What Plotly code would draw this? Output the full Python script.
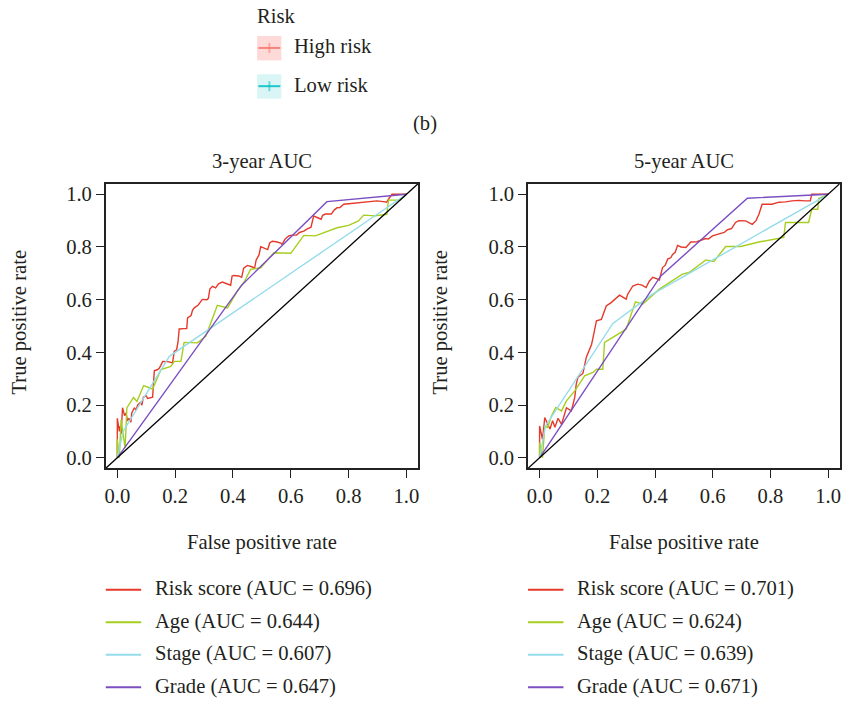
import plotly.graph_objects as go

FONT = "Liberation Serif"
TXT = "#231F20"

# ---------------- data ----------------
panel_titles = ["3-year AUC", "5-year AUC"]
series_names = ["Risk score", "Age", "Stage", "Grade"]
series_colors = ["#E5392B", "#A6CE1E", "#95DCEB", "#7B4FC1"]
auc_3y = [0.696, 0.644, 0.607, 0.647]
auc_5y = [0.701, 0.624, 0.639, 0.671]
tick_vals = [0.0, 0.2, 0.4, 0.6, 0.8, 1.0]
axis_range = [-0.04, 1.04]
risk_groups = ["High risk", "Low risk"]
risk_colors = ["#F8766D", "#00BFC4"]

# 3-year
risk3_x = [0, 0, 0.007, 0.01, 0.013, 0.018, 0.025, 0.03, 0.035, 0.04, 0.047, 0.05, 0.059, 0.065, 0.07,
           0.08, 0.085, 0.09, 0.1, 0.105, 0.122, 0.128, 0.14, 0.145, 0.15, 0.157, 0.175, 0.191, 0.197,
           0.205, 0.21, 0.214, 0.23, 0.24, 0.243, 0.255, 0.26, 0.266, 0.28, 0.294, 0.31, 0.315, 0.32,
           0.329, 0.34, 0.35, 0.363, 0.38, 0.392, 0.397, 0.403, 0.42, 0.43, 0.437, 0.45, 0.465, 0.475,
           0.48, 0.484, 0.49, 0.496, 0.51, 0.52, 0.527, 0.536, 0.55, 0.565, 0.57, 0.58, 0.593, 0.605,
           0.62, 0.63, 0.645, 0.657, 0.67, 0.675, 0.679, 0.695, 0.705, 0.71, 0.72, 0.74, 0.75, 0.76,
           0.77, 0.783, 0.81, 0.84, 0.87, 0.898, 0.92, 0.932, 0.94, 0.95, 0.97, 0.985, 1.0]
risk3_y = [0, 0.15, 0.10, 0.12, 0.09, 0.19, 0.16, 0.17, 0.14, 0.15, 0.135, 0.17, 0.19, 0.18, 0.20,
           0.21, 0.20, 0.23, 0.235, 0.225, 0.23, 0.33, 0.335, 0.34, 0.35, 0.366, 0.365, 0.36, 0.404,
           0.41, 0.44, 0.489, 0.49, 0.49, 0.531, 0.54, 0.56, 0.569, 0.58, 0.601, 0.60, 0.605, 0.64,
           0.651, 0.645, 0.66, 0.667, 0.66, 0.655, 0.69, 0.692, 0.69, 0.685, 0.72, 0.73, 0.725, 0.72,
           0.75, 0.759, 0.77, 0.801, 0.795, 0.79, 0.815, 0.822, 0.82, 0.815, 0.81, 0.83, 0.842, 0.845,
           0.845, 0.855, 0.86, 0.869, 0.875, 0.90, 0.918, 0.91, 0.905, 0.92, 0.925, 0.925, 0.94, 0.949,
           0.95, 0.962, 0.965, 0.971, 0.972, 0.975, 0.972, 0.97, 0.985, 1.0, 1.0, 1.0, 1.0]
age3_x = [0, 0, 0.007, 0.013, 0.027, 0.033, 0.056, 0.068, 0.091, 0.122, 0.151, 0.185, 0.197, 0.22,
          0.231, 0.277, 0.306, 0.33, 0.346, 0.381, 0.415, 0.44, 0.461, 0.496, 0.541, 0.60, 0.645,
          0.685, 0.76, 0.80, 0.834, 0.852, 0.892, 0.932, 0.938, 0.978, 1.0]
age3_y = [0, 0.07, 0.0, 0.144, 0.037, 0.189, 0.229, 0.214, 0.274, 0.261, 0.335, 0.347, 0.366, 0.366,
          0.438, 0.436, 0.461, 0.53, 0.579, 0.569, 0.632, 0.67, 0.715, 0.721, 0.778, 0.776, 0.844,
          0.842, 0.873, 0.882, 0.899, 0.921, 0.918, 0.924, 0.978, 0.978, 1.0]
stage3_x = [0, 0.02, 0.18, 0.32, 1.0]
stage3_y = [0, 0.10, 0.385, 0.49, 1.0]
grade3_x = [0, 0.43, 0.725, 1.0]
grade3_y = [0, 0.655, 0.972, 1.0]

# 5-year
risk5_x = [0, 0, 0.01, 0.018, 0.027, 0.036, 0.045, 0.053, 0.064, 0.07, 0.076, 0.093, 0.10, 0.11, 0.122,
           0.127, 0.133, 0.15, 0.162, 0.174, 0.18, 0.185, 0.194, 0.197, 0.214, 0.231, 0.248, 0.26,
           0.277, 0.30, 0.305, 0.323, 0.34, 0.355, 0.369, 0.38, 0.392, 0.405, 0.415, 0.426, 0.435,
           0.444, 0.455, 0.461, 0.47, 0.478, 0.49, 0.507, 0.515, 0.524, 0.545, 0.56, 0.576, 0.585,
           0.599, 0.622, 0.64, 0.65, 0.665, 0.679, 0.69, 0.714, 0.737, 0.75, 0.76, 0.771, 0.79, 0.805,
           0.83, 0.852, 0.875, 0.898, 0.92, 0.938, 0.943, 0.97, 1.0]
risk5_y = [0, 0.121, 0.07, 0.153, 0.13, 0.109, 0.141, 0.116, 0.15, 0.14, 0.127, 0.19, 0.185, 0.178,
           0.23, 0.28, 0.306, 0.32, 0.382, 0.417, 0.43, 0.455, 0.497, 0.52, 0.525, 0.576, 0.589, 0.60,
           0.617, 0.602, 0.62, 0.652, 0.659, 0.655, 0.646, 0.67, 0.685, 0.68, 0.675, 0.722, 0.73,
           0.754, 0.76, 0.772, 0.78, 0.806, 0.80, 0.798, 0.81, 0.819, 0.82, 0.825, 0.832, 0.83,
           0.842, 0.85, 0.855, 0.865, 0.87, 0.893, 0.90, 0.899, 0.886, 0.90, 0.924, 0.962, 0.962, 0.962,
           0.97, 0.971, 0.975, 0.977, 0.975, 0.975, 1.0, 1.0, 1.0]
age5_x = [0, 0, 0.01, 0.018, 0.028, 0.041, 0.056, 0.076, 0.093, 0.122, 0.156, 0.185, 0.197, 0.219,
          0.225, 0.265, 0.30, 0.332, 0.357, 0.415, 0.495, 0.518, 0.576, 0.604, 0.645, 0.697, 0.76,
          0.846, 0.852, 0.932, 0.943, 0.964, 0.967, 1.0]
age5_y = [0, 0.058, 0.0, 0.121, 0.115, 0.159, 0.191, 0.178, 0.216, 0.254, 0.311, 0.324, 0.336, 0.336,
          0.438, 0.463, 0.488, 0.592, 0.583, 0.64, 0.697, 0.703, 0.751, 0.745, 0.802, 0.802, 0.819,
          0.836, 0.893, 0.893, 0.943, 0.943, 0.984, 1.0]
stage5_x = [0, 0.02, 0.254, 0.39, 1.0]
stage5_y = [0, 0.12, 0.51, 0.62, 1.0]
grade5_x = [0, 0.42, 0.72, 1.0]
grade5_y = [0, 0.69, 0.985, 1.0]

panels = [
    [(risk3_x, risk3_y), (age3_x, age3_y), (stage3_x, stage3_y), (grade3_x, grade3_y)],
    [(risk5_x, risk5_y), (age5_x, age5_y), (stage5_x, stage5_y), (grade5_x, grade5_y)],
]
panel_aucs = [auc_3y, auc_5y]

# ---------------- layout geometry (pixels) ----------------
W, H = 849, 705
box_left = [105, 528.3]
box_right = [418, 840.7]
box_top, box_bottom = 184, 469
FS = 20.6


def px(x):
    return x / W


def py(y):
    return 1 - y / H


fig = go.Figure()

for p, curves in enumerate(panels):
    xa = "x" if p == 0 else "x2"
    ya = "y" if p == 0 else "y2"
    for (cx, cy), name, col in zip(curves, series_names, series_colors):
        fig.add_trace(go.Scatter(x=cx, y=cy, mode="lines", xaxis=xa, yaxis=ya,
                                 line=dict(color=col, width=1.4), name=name,
                                 showlegend=False, hoverinfo="skip"))
    # reference diagonal (abline 0,1)
    fig.add_trace(go.Scatter(x=axis_range, y=axis_range, mode="lines", xaxis=xa, yaxis=ya,
                             line=dict(color="black", width=1.3), showlegend=False,
                             hoverinfo="skip"))

axis_common = dict(range=axis_range, tickvals=tick_vals, tickformat=".1f", ticks="outside",
                   ticklen=8, tickwidth=1.3, tickcolor="#222", showline=True, mirror=True,
                   linecolor="#222", linewidth=1.5, showgrid=False, zeroline=False,
                   tickfont=dict(family=FONT, size=FS, color=TXT))

fig.update_layout(
    width=W, height=H, margin=dict(l=0, r=0, t=0, b=0),
    font=dict(family=FONT, size=FS, color=TXT),
    paper_bgcolor="white", plot_bgcolor="white",
    xaxis=dict(domain=[px(box_left[0]), px(box_right[0])], anchor="y", **axis_common),
    yaxis=dict(domain=[py(box_bottom), py(box_top)], anchor="x", **axis_common),
    xaxis2=dict(domain=[px(box_left[1]), px(box_right[1])], anchor="y2", **axis_common),
    yaxis2=dict(domain=[py(box_bottom), py(box_top)], anchor="x2", **axis_common),
    showlegend=False,
)

ann = []
shapes = []
tf = dict(family=FONT, size=FS, color=TXT)

for p in range(2):
    cx = (box_left[p] + box_right[p]) / 2
    ann.append(dict(x=px(cx), y=py(162), xref="paper", yref="paper", text=panel_titles[p],
                    showarrow=False, font=tf, xanchor="center", yanchor="middle"))
    ann.append(dict(x=px(cx), y=py(543), xref="paper", yref="paper", text="False positive rate",
                    showarrow=False, font=tf, xanchor="center", yanchor="middle"))
    ylab_x = 19 if p == 0 else 441
    ann.append(dict(x=px(ylab_x), y=py(322), xref="paper", yref="paper", text="True positive rate",
                    showarrow=False, font=tf, textangle=-90, xanchor="center", yanchor="middle"))
    # bottom legend
    for i, (name, col) in enumerate(zip(series_names, series_colors)):
        yy = 590.5 + i * 32.6
        shapes.append(dict(type="line", xref="paper", yref="paper",
                           x0=px(box_left[p]), x1=px(box_left[p] + 35.5), y0=py(yy), y1=py(yy),
                           line=dict(color=col, width=2)))
        ann.append(dict(x=px(box_left[p] + 47), y=py(yy - 1), xref="paper", yref="paper",
                        text=f"{name} (AUC = {panel_aucs[p][i]:.3f})", showarrow=False, font=tf,
                        xanchor="left", yanchor="middle"))

# top legend (Risk)
ann.append(dict(x=px(255), y=py(16), xref="paper", yref="paper", text="Risk", showarrow=False,
                font=tf, xanchor="left", yanchor="middle"))
fills = ["rgba(248,118,109,0.27)", "rgba(0,191,196,0.15)"]
for i, (g, col) in enumerate(zip(risk_groups, risk_colors)):
    top = 36 + i * 38.3
    shapes.append(dict(type="rect", xref="paper", yref="paper", x0=px(256.7), x1=px(281),
                       y0=py(top), y1=py(top + 24.5), fillcolor=fills[i], line=dict(width=0),
                       layer="above"))
    mid = top + 12
    shapes.append(dict(type="line", xref="paper", yref="paper", x0=px(258), x1=px(280),
                       y0=py(mid), y1=py(mid), line=dict(color=col, width=2), opacity=0.85))
    shapes.append(dict(type="line", xref="paper", yref="paper", x0=px(269), x1=px(269),
                       y0=py(mid - 5), y1=py(mid + 5), line=dict(color=col, width=2), opacity=0.5))
    ann.append(dict(x=px(292), y=py(mid - 1), xref="paper", yref="paper", text=g, showarrow=False,
                    font=tf, xanchor="left", yanchor="middle"))

ann.append(dict(x=px(425), y=py(124), xref="paper", yref="paper", text="(b)", showarrow=False,
                font=tf, xanchor="center", yanchor="middle"))

fig.update_layout(annotations=ann, shapes=shapes)
fig.write_html("out.html")
